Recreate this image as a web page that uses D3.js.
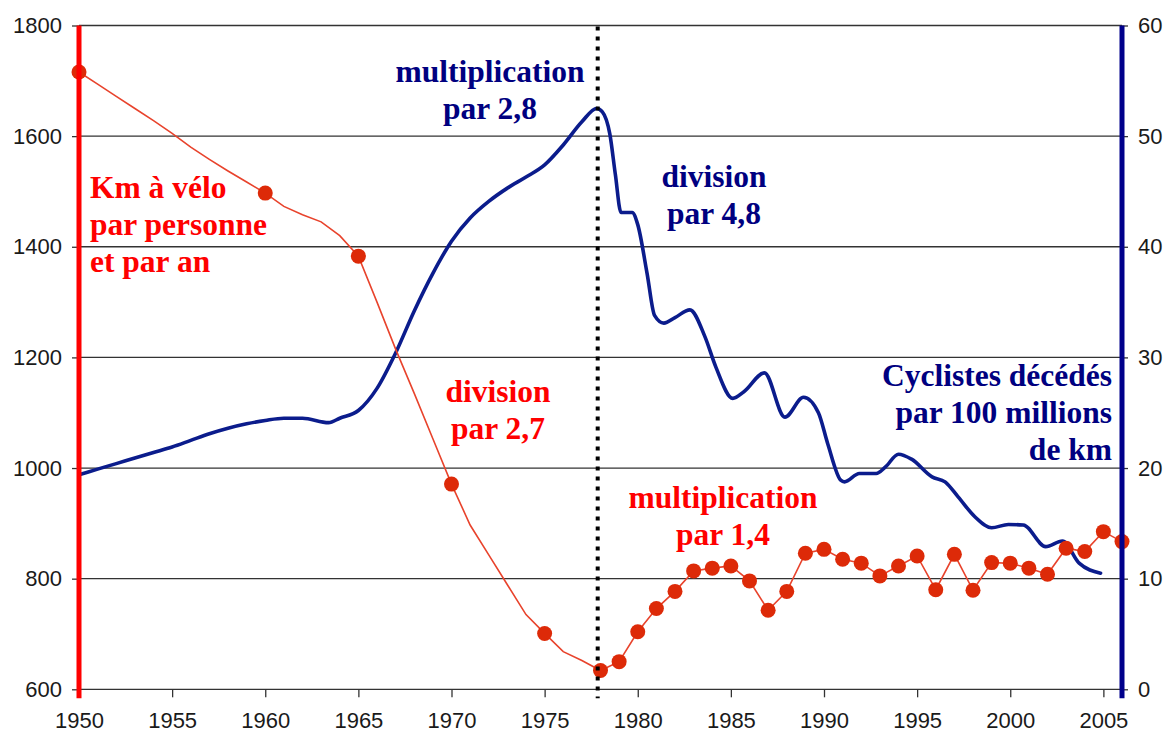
<!DOCTYPE html>
<html>
<head>
<meta charset="utf-8">
<script src="https://cdn.jsdelivr.net/npm/d3@7"></script>
<style>
    body { margin: 0; background: #fff; }
    .ticklabel text { font-family: "Liberation Sans", Arial, sans-serif; font-size: 22px; fill: #1a1a1a; }
    .note { font-family: "Liberation Serif", "Times New Roman", serif; font-size: 31.5px; font-weight: bold; }
</style>
</head>
<body>
<svg id="chart" width="1167" height="733"></svg>
<script>
// km a velo par personne et par an (axe gauche)
var kmYears = [1950, 1951, 1952, 1953, 1954, 1955, 1956, 1957, 1958, 1959,
    1960, 1961, 1962, 1963, 1964, 1965, 1966, 1967, 1968, 1969,
    1970, 1971, 1972, 1973, 1974, 1975, 1976, 1977, 1978, 1979,
    1980, 1981, 1982, 1983, 1984, 1985, 1986, 1987, 1988, 1989,
    1990, 1991, 1992, 1993, 1994, 1995, 1996, 1997, 1998, 1999,
    2000, 2001, 2002, 2003, 2004, 2005, 2006];
var kmValues = [1716, 1694, 1672, 1650, 1628, 1605, 1580, 1558, 1537, 1517,
    1497, 1473, 1458, 1445, 1420, 1383, 1300, 1215, 1135, 1053,
    971, 897, 843, 789, 735, 701, 668, 652, 634, 650,
    704, 746, 777, 814, 819, 823, 796, 743, 777, 846,
    853, 835, 828, 805, 823, 841, 780, 844, 779, 829,
    828, 819, 808, 855, 849, 885, 867];
// years that carry a marker
var kmMarkerYears = [1950, 1960, 1965, 1970, 1975, 1978, 1979, 1980, 1981, 1982,
    1983, 1984, 1985, 1986, 1987, 1988, 1989, 1990, 1991, 1992, 1993, 1994,
    1995, 1996, 1997, 1998, 1999, 2000, 2001, 2002, 2003, 2004, 2005, 2006];

// cyclistes decedes par 100 millions de km (axe droit)
var deathYears = [1950, 1951, 1952, 1953, 1954, 1955, 1956, 1957, 1958, 1959,
    1960, 1961, 1962, 1963.4, 1964, 1965, 1966, 1967, 1968, 1969,
    1970, 1971, 1972, 1973, 1974, 1975, 1976, 1977, 1977.8, 1978.1,
    1978.5, 1978.8, 1979.1, 1979.7, 1980, 1980.5, 1980.9, 1981.4, 1982, 1982.8,
    1983.6, 1984.2, 1985.1, 1985.7, 1986.8, 1987.9, 1988.9, 1989.7, 1990.2, 1990.9,
    1991.1, 1991.9, 1992.8, 1993.3, 1994, 1994.7, 1995.8, 1996.5, 1997.2, 1998.1,
    1999, 1999.9, 2000.7, 2001.9, 2002.8, 2003.7, 2004.85];
var deathValues = [19.4, 19.9, 20.4, 20.9, 21.4, 21.9, 22.5, 23.1, 23.6, 24.0,
    24.3, 24.5, 24.5, 24.1, 24.5, 25.2, 27.2, 30.4, 34.2, 37.6,
    40.5, 42.6, 44.1, 45.3, 46.3, 47.4, 49.2, 51.3, 52.5, 52.2,
    50.2, 46.5, 43.1, 43.1, 42.0, 37.6, 33.8, 33.1, 33.6, 34.3,
    31.9, 29.1, 26.3, 26.9, 28.6, 24.6, 26.4, 25.0, 22.2, 18.9,
    18.75, 19.5, 19.5, 20.1, 21.25, 20.8, 19.2, 18.75, 17.4, 15.6,
    14.6, 14.9, 14.85, 12.9, 13.4, 11.4, 10.5];

var xTickValues = [1950, 1955, 1960, 1965, 1970, 1975, 1980, 1985, 1990, 1995, 2000, 2005];
var leftTickValues = [600, 800, 1000, 1200, 1400, 1600, 1800];
var rightTickValues = [0, 10, 20, 30, 40, 50, 60];
var dividerYear = 1977.85;

var redNotes = [
    { lines: ["Km à vélo", "par personne", "et par an"], x: 90, y: 198, anchor: "start" },
    { lines: ["division", "par 2,7"], x: 498, y: 402, anchor: "middle" },
    { lines: ["multiplication", "par 1,4"], x: 723, y: 508, anchor: "middle" }
];
var blueNotes = [
    { lines: ["multiplication", "par 2,8"], x: 490, y: 82, anchor: "middle" },
    { lines: ["division", "par 4,8"], x: 714, y: 187, anchor: "middle" },
    { lines: ["Cyclistes décédés", "par 100 millions", "de km"], x: 1112, y: 386, anchor: "end" }
];

var svg = d3.select("#chart");
var plotLeft = 79, plotRight = 1122, plotTop = 25.5, plotBottom = 689.3;

var x = d3.scaleLinear().domain([1950, 2006]).range([plotLeft, plotRight]);
var yLeft = d3.scaleLinear().domain([600, 1800]).range([plotBottom, plotTop]);
var yRight = d3.scaleLinear().domain([0, 60]).range([plotBottom, plotTop]);

//gridlines
svg.append("g")
    .selectAll("line")
    .data(leftTickValues)
    .enter()
    .append("line")
    .attr("x1", plotLeft)
    .attr("x2", plotRight)
    .attr("y1", function (d) { return yLeft(d); })
    .attr("y2", function (d) { return yLeft(d); })
    .attr("stroke", "#333")
    .attr("stroke-width", 1.3);

//axes
var leftAxis = svg.append("g")
    .attr("class", "ticklabel")
    .attr("transform", "translate(" + plotLeft + ",0)")
    .call(d3.axisLeft(yLeft).tickValues(leftTickValues).tickFormat(d3.format("d")).tickSize(7).tickPadding(10));

var rightAxis = svg.append("g")
    .attr("class", "ticklabel")
    .attr("transform", "translate(" + plotRight + ",0)")
    .call(d3.axisRight(yRight).tickValues(rightTickValues).tickFormat(d3.format("d")).tickSize(6).tickPadding(10));

var bottomAxis = svg.append("g")
    .attr("class", "ticklabel")
    .attr("transform", "translate(0," + plotBottom + ")")
    .call(d3.axisBottom(x).tickValues(xTickValues).tickFormat(d3.format("d")).tickSize(8).tickPadding(15));

[leftAxis, rightAxis, bottomAxis].forEach(function (g) {
    g.select(".domain").remove();
    g.selectAll(".tick line").attr("stroke", "#333").attr("stroke-width", 1.3);
});

//blue series
var deathData = deathYears.map(function (yr, i) { return { year: yr, value: deathValues[i] }; });
svg.append("path")
    .datum(deathData)
    .attr("fill", "none")
    .attr("stroke", "#0b1c8c")
    .attr("stroke-width", 3.6)
    .attr("stroke-linejoin", "round")
    .attr("stroke-linecap", "round")
    .attr("d", d3.line()
        .curve(d3.curveMonotoneX)
        .x(function (d) { return x(d.year); })
        .y(function (d) { return yRight(d.value); }));

//red series
var kmData = kmYears.map(function (yr, i) { return { year: yr, value: kmValues[i] }; });
svg.append("path")
    .datum(kmData)
    .attr("fill", "none")
    .attr("stroke", "#e8432c")
    .attr("stroke-width", 1.6)
    .attr("d", d3.line()
        .x(function (d) { return x(d.year); })
        .y(function (d) { return yLeft(d.value); }));

svg.append("g")
    .selectAll("circle")
    .data(kmData.filter(function (d) { return kmMarkerYears.indexOf(d.year) >= 0; }))
    .enter()
    .append("circle")
    .attr("cx", function (d) { return x(d.year); })
    .attr("cy", function (d) { return yLeft(d.value); })
    .attr("r", 7.5)
    .attr("fill", "#dd2a08");

//dotted divider
svg.append("line")
    .attr("x1", x(dividerYear))
    .attr("x2", x(dividerYear))
    .attr("y1", plotTop + 1)
    .attr("y2", plotBottom + 9)
    .attr("stroke", "#000")
    .attr("stroke-width", 4)
    .attr("stroke-dasharray", "4,6");

//coloured axis bars
svg.append("line")
    .attr("x1", plotLeft).attr("x2", plotLeft)
    .attr("y1", plotTop).attr("y2", plotBottom + 9)
    .attr("stroke", "#ff0000")
    .attr("stroke-width", 5);

svg.append("line")
    .attr("x1", plotRight).attr("x2", plotRight)
    .attr("y1", plotTop).attr("y2", plotBottom + 9)
    .attr("stroke", "#00008b")
    .attr("stroke-width", 5);

//annotations
function addNotes(notes, colour) {
    notes.forEach(function (n) {
        var t = svg.append("text")
            .attr("class", "note")
            .attr("fill", colour)
            .attr("text-anchor", n.anchor);
        n.lines.forEach(function (line, i) {
            t.append("tspan")
                .attr("x", n.x)
                .attr("y", n.y + i * 37)
                .text(line);
        });
    });
}
addNotes(redNotes, "#ff0000");
addNotes(blueNotes, "#000080");
</script>
</body>
</html>
